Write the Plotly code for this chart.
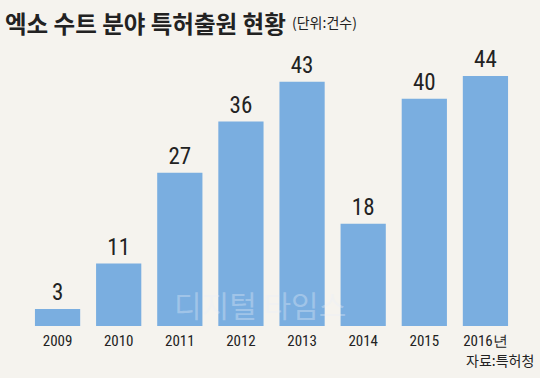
import plotly.graph_objects as go

years = ["2009", "2010", "2011", "2012", "2013", "2014", "2015", "2016년"]
counts = [3, 11, 27, 36, 43, 18, 40, 44]

title_main = "엑소 수트 분야 특허출원 현황"
title_unit = "(단위:건수)"
source = "자료:특허청"

BG = "#f5f3ee"
BAR = "#7aaee0"
TXT = "#222222"
NUM_FONT = "Liberation Sans Narrow, Roboto Condensed, Arial Narrow, sans-serif"

L, R, T, B = 27, 24, 42, 52
PW, PH = 540 - L - R, 378 - T - B

fig = go.Figure(go.Bar(
    x=years, y=counts,
    marker=dict(color=BAR, line=dict(width=0)),
    text=[str(v) for v in counts],
    textposition="outside",
    textfont=dict(family=NUM_FONT, size=23, color=TXT),
    cliponaxis=False,
))

fig.update_layout(
    width=540, height=378,
    paper_bgcolor=BG, plot_bgcolor=BG,
    margin=dict(l=L, r=R, t=T, b=B),
    bargap=0.26,
    showlegend=False,
    xaxis=dict(showgrid=False, zeroline=False, showline=False, ticks="",
               ticklabelstandoff=4,
               tickfont=dict(family=NUM_FONT, size=15, color=TXT)),
    yaxis=dict(range=[0, 50], visible=False),
)

top_y = 1 + T / PH
left_x = -L / PW
fig.add_annotation(text="<b>" + title_main + "</b>", xref="paper", yref="paper",
                   x=left_x, y=top_y, xanchor="left", yanchor="top",
                   xshift=3, yshift=-4, showarrow=False,
                   font=dict(family="Noto Sans CJK KR", size=23.5, color=TXT))
fig.add_annotation(text=title_unit, xref="paper", yref="paper",
                   x=left_x, y=top_y, xanchor="left", yanchor="top",
                   xshift=290, yshift=-10, showarrow=False,
                   font=dict(family="Noto Sans CJK KR", size=14, color=TXT))
fig.add_annotation(text=source, xref="paper", yref="paper",
                   x=1 + R / PW, y=-B / PH, xanchor="right", yanchor="bottom",
                   xshift=-4, yshift=6, showarrow=False,
                   font=dict(family="Noto Sans CJK KR", size=14, color=TXT))
fig.add_annotation(text="디지털 타임스", xref="paper", yref="paper",
                   x=0.5, y=0.0, xanchor="center", yanchor="bottom",
                   xshift=-12, yshift=-2, showarrow=False,
                   font=dict(family="Noto Sans CJK KR", size=30, color="rgba(235,240,248,0.35)"))

fig.write_html("out.html", config={"displayModeBar": False},
               post_script="document.body.style.margin='0';document.body.style.padding='0';")
